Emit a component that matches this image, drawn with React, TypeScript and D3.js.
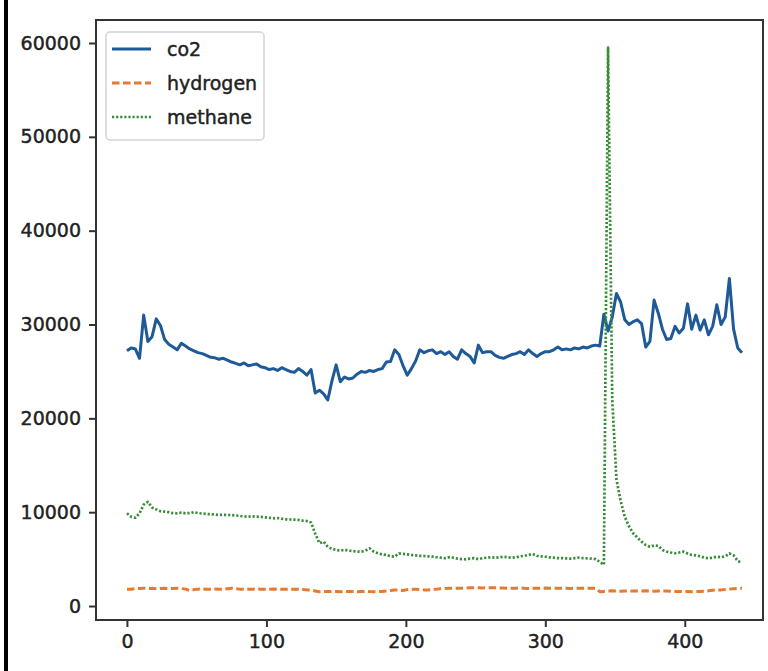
import React, { useRef, useEffect } from 'react';
import * as d3 from 'd3';

// sample positions along the x axis (reading index)
const sampleIndex = d3.range(0, 442, 3);

const co2 = [
  27200, 27500, 27400, 26400, 31000, 28200, 28700, 30600, 29900, 28400,
  27900, 27600, 27300, 28000, 27700, 27400, 27200, 27000, 26900, 26700,
  26500, 26450, 26300, 26400, 26200, 26000, 25850, 25700, 25900, 25600,
  25700, 25800, 25500, 25400, 25200, 25300, 25100, 25400, 25200, 25000,
  24900, 25300, 25000, 24600, 25200, 22700, 23000, 22600, 21960, 24000,
  25700, 23900, 24400, 24200, 24300, 24700, 25000, 24900, 25100, 25000,
  25200, 25300, 26000, 26050, 27300, 26800, 25600, 24600, 25300, 26100,
  27300, 27000, 27200, 27300, 26900, 27100, 26800, 27100, 26600, 26300,
  27300, 26900, 26600, 25900, 27800, 27000, 27100, 27100, 26700, 26500,
  26400, 26600, 26800, 26900, 27100, 26800, 27300, 26900, 26600, 26900,
  27100, 27100, 27300, 27600, 27300, 27400, 27300, 27500, 27400, 27600,
  27500, 27700, 27800, 27700, 31100, 29300, 30800, 33300, 32400, 30500,
  30000, 30300, 30500, 30100, 27600, 28200, 32600, 31200, 29500, 28400,
  28500, 29800, 29100, 29600, 32200, 29500, 31000, 29400, 30500, 28900,
  29800, 32100, 30000, 30800, 34900, 29500, 27500, 27000,
];

const hydrogen = [
  1800, 1780, 1850, 1880, 1900, 1870, 1890, 1850, 1880, 1900,
  1860, 1870, 1890, 1860, 1800, 1650, 1750, 1800, 1820, 1800,
  1790, 1810, 1800, 1780, 1850, 1890, 1860, 1800, 1780, 1790,
  1800, 1820, 1790, 1780, 1800, 1810, 1780, 1790, 1780, 1800,
  1790, 1780, 1750, 1720, 1710, 1600, 1530, 1550, 1540, 1560,
  1550, 1530, 1560, 1550, 1540, 1530, 1550, 1560, 1540, 1530,
  1530, 1550, 1600, 1650, 1710, 1700, 1650, 1750, 1780, 1790,
  1760, 1720, 1710, 1750, 1800, 1850, 1870, 1890, 1880, 1890,
  1900, 1920, 1940, 1960, 1950, 1930, 1940, 1960, 1950, 1920,
  1910, 1900, 1890, 1900, 1920, 1890, 1880, 1900, 1890, 1900,
  1910, 1890, 1880, 1890, 1900, 1890, 1880, 1890, 1900, 1890,
  1880, 1890, 1880, 1530, 1560, 1600, 1620, 1600, 1580, 1600,
  1610, 1600, 1590, 1600, 1620, 1600, 1580, 1600, 1590, 1610,
  1580, 1560, 1550, 1540, 1550, 1530, 1540, 1560, 1580, 1620,
  1680, 1710, 1720, 1750, 1800, 1850, 1880, 1890,
];

const methane = [
  9880, 9520, 9410, 9880, 10800, 11100, 10500, 10300, 10100, 10050,
  10000, 9900, 9880, 9950, 9880, 9900, 10000, 9900, 9850, 9810,
  9780, 9750, 9700, 9720, 9700, 9700, 9650, 9600, 9550, 9520,
  9560, 9520, 9500, 9450, 9400, 9350, 9380, 9300, 9240, 9220,
  9200, 9170, 9100, 9050, 8900, 7700, 6700, 6860, 6300, 6100,
  5970, 5900, 6000, 5900, 5850, 5800, 5790, 5900, 6150, 5800,
  5620, 5500, 5450, 5300, 5260, 5600, 5550, 5500, 5440, 5400,
  5350, 5330, 5300, 5260, 5200, 5150, 5100, 5200, 5150, 5050,
  5000, 4980, 5050, 5100, 5000, 5100, 5150, 5200, 5150, 5190,
  5250, 5200, 5150, 5200, 5300, 5350, 5450, 5540, 5350, 5300,
  5250, 5190, 5150, 5100, 5100, 5080, 5050, 5100, 5150, 5100,
  5080, 5050, 5000, 4720, 4400, 59500, 22000, 13500, 11200, 9500,
  8500, 7750, 7300, 6860, 6500, 6320, 6450, 6400, 5970, 5800,
  5700, 5620, 5700, 5790, 5600, 5440, 5400, 5300, 5150, 5080,
  5150, 5260, 5200, 5300, 5600, 5400, 4800, 4600,
];

const seriesNames = ['co2', 'hydrogen', 'methane'];
const xTicks = [0, 100, 200, 300, 400];
const yTicks = [0, 10000, 20000, 30000, 40000, 50000, 60000];

const W = 768;
const H = 671;
const FONT = 'DejaVu Sans, sans-serif';

const App = () => {
  const svgRef = useRef(null);

  useEffect(() => {
    document.body.style.margin = '0';

    const svg = d3.select(svgRef.current);
    svg.selectAll('*').remove();

    const x = d3.scaleLinear().domain([-22.2, 456.1]).range([96, 763]);
    const y = d3.scaleLinear().domain([-1490, 62450]).range([620, 20]);

    svg.append('rect').attr('width', W).attr('height', H).attr('fill', '#fff');

    // black bar on the far left of the screenshot
    svg.append('line')
      .attr('x1', 6).attr('x2', 6).attr('y1', 0).attr('y2', H)
      .attr('stroke', '#000').attr('stroke-width', 4);

    const styles = [
      { color: '#1f5a98', dash: null, width: 3 },
      { color: '#e57a30', dash: '7.5,3.5', width: 3 },
      { color: '#378e37', dash: '2.2,1.9', width: 2.7 },
    ];
    const allSeries = [co2, hydrogen, methane];

    const line = d3.line()
      .x((d, i) => x(sampleIndex[i]))
      .y(d => y(d));

    [1, 0, 2].forEach(k => {
      const s = styles[k];
      svg.append('path')
        .datum(allSeries[k])
        .attr('d', line)
        .attr('fill', 'none')
        .attr('stroke', s.color)
        .attr('stroke-width', s.width)
        .attr('stroke-linejoin', 'round')
        .attr('stroke-dasharray', s.dash);
    });

    // axes
    const yAxis = svg.append('g')
      .attr('transform', 'translate(96,0)')
      .call(d3.axisLeft(y).tickValues(yTicks).tickSize(7).tickPadding(8).tickFormat(d3.format('d')));
    const xAxis = svg.append('g')
      .attr('transform', 'translate(0,620)')
      .call(d3.axisBottom(x).tickValues(xTicks).tickSize(7).tickPadding(8).tickFormat(d3.format('d')));

    [yAxis, xAxis].forEach(g => {
      g.select('.domain').remove();
      g.selectAll('.tick line').attr('stroke', '#333').attr('stroke-width', 2);
      g.selectAll('.tick text')
        .attr('fill', '#222')
        .attr('stroke', '#222')
        .attr('stroke-width', 0.45)
        .style('font-family', FONT)
        .style('font-size', '19px');
    });

    // frame
    svg.append('rect')
      .attr('x', 96).attr('y', 20).attr('width', 667).attr('height', 600)
      .attr('fill', 'none').attr('stroke', '#333').attr('stroke-width', 2);

    // legend
    const legend = svg.append('g');
    legend.append('rect')
      .attr('x', 106).attr('y', 32).attr('width', 158).attr('height', 108).attr('rx', 4)
      .attr('fill', '#fff').attr('fill-opacity', 0.8)
      .attr('stroke', '#d3d3d3').attr('stroke-width', 1.5);

    seriesNames.forEach((name, i) => {
      const ly = 49 + i * 34;
      const s = styles[i];
      legend.append('line')
        .attr('x1', 112).attr('x2', 151).attr('y1', ly).attr('y2', ly)
        .attr('stroke', s.color).attr('stroke-width', s.width)
        .attr('stroke-dasharray', s.dash);
      legend.append('text')
        .attr('x', 167).attr('y', ly)
        .attr('dy', '0.35em')
        .attr('fill', '#222')
        .attr('stroke', '#222')
        .attr('stroke-width', 0.45)
        .style('font-family', FONT)
        .style('font-size', '19px')
        .text(name);
    });
  }, []);

  return <svg ref={svgRef} width={W} height={H} style={{ display: 'block' }} />;
};

export default App;
